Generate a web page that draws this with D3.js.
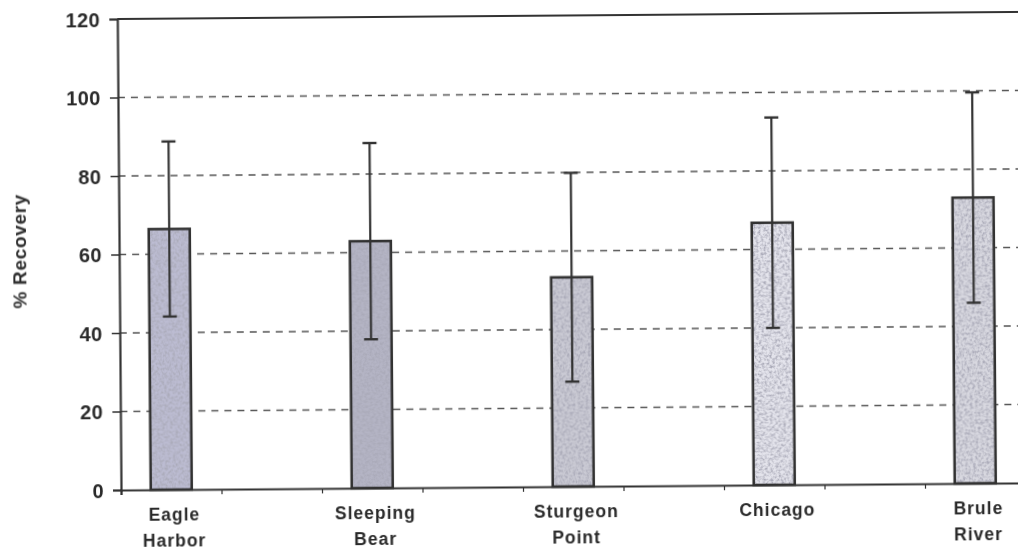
<!DOCTYPE html>
<html>
<head>
<meta charset="utf-8">
<script src="https://cdn.jsdelivr.net/npm/d3@7"></script>
<style>
  html, body { margin: 0; padding: 0; background: #fff; }
  svg { display: block; }
  text { font-family: "Liberation Sans", Arial, sans-serif; font-weight: bold; fill: #2a2a2a; }
</style>
</head>
<body>
<svg id="chart" width="1018" height="556"></svg>
<script>
// Sampling sites (label lines), mean recovery (%) and standard deviation
const sites = [["Eagle", "Harbor"], ["Sleeping", "Bear"], ["Sturgeon", "Point"], ["Chicago"], ["Brule", "River"]];
const recovery = [66.4, 62.9, 53.3, 66.8, 72.8];
const stdDev = [22.3, 25.0, 26.6, 26.8, 26.8];
const yTicks = [0, 20, 40, 60, 80, 100, 120];

// Bar tints (stippled grey-lavender fills)
const barTints = ["#bcbcd2", "#b4b4c4", "#cacad4", "#e4e4ec", "#d8d8e0"];

const svg = d3.select("#chart");
const defs = svg.append("defs");

// Mottled stipple texture for the bar fills
const f = defs.append("filter").attr("id", "grain")
  .attr("x", 0).attr("y", 0).attr("width", 1).attr("height", 1);
f.append("feTurbulence").attr("type", "fractalNoise").attr("baseFrequency", 0.38)
  .attr("numOctaves", 3).attr("seed", 11).attr("result", "noise");
f.append("feColorMatrix").attr("in", "noise").attr("type", "matrix")
  .attr("values", "0 0 0 0 0.40  0 0 0 0 0.40  0 0 0 0 0.48  0 0 0 2.4 -0.9")
  .attr("result", "dots");
f.append("feComposite").attr("in", "dots").attr("in2", "SourceGraphic")
  .attr("operator", "in").attr("result", "clipped");
const m = f.append("feMerge");
m.append("feMergeNode").attr("in", "SourceGraphic");
m.append("feMergeNode").attr("in", "clipped");

// Slight softening of the printed lines
defs.append("filter").attr("id", "soft")
  .append("feGaussianBlur").attr("stdDeviation", 0.45);

// Plot geometry
const x0 = 121, y0 = 490, yTop = 19;
const slots = sites.length * 2;               // two tick intervals per site
const x = d3.scaleLinear().domain([0, slots]).range([x0, x0 + slots * 100.5]);
const y = d3.scaleLinear().domain([0, 120]).range([y0, yTop]);
const barW = 41;

// Whole chart is slightly tilted
const g = svg.append("g")
  .attr("transform", `rotate(-0.45, ${x0}, ${y0})`)
  .attr("filter", "url(#soft)");

const ink = "#333";

// Dashed gridlines
g.append("g").selectAll("line")
  .data(yTicks.filter(t => t > 0 && t < 120))
  .join("line")
  .attr("x1", x0).attr("x2", x(slots))
  .attr("y1", d => y(d)).attr("y2", d => y(d))
  .attr("stroke", "#555").attr("stroke-width", 1.5)
  .attr("stroke-dasharray", "7,6");

// Top frame line
g.append("line")
  .attr("x1", x0).attr("x2", x(slots))
  .attr("y1", y(120)).attr("y2", y(120))
  .attr("stroke", ink).attr("stroke-width", 2);

// Y axis
const yAxis = d3.axisLeft(y).tickValues(yTicks).tickSize(8).tickPadding(9);
const ya = g.append("g").attr("transform", `translate(${x0},0)`).call(yAxis);
ya.select(".domain").attr("stroke", ink).attr("stroke-width", 2.2);
ya.selectAll(".tick line").attr("stroke", ink).attr("stroke-width", 1.5);
ya.selectAll(".tick text")
  .style("font-size", "20px").style("letter-spacing", "0.5px")
  .attr("dy", "0.36em")
  .attr("fill", "#2a2a2a");

// X axis (ticks at every half-site interval)
const xAxis = d3.axisBottom(x).tickValues(d3.range(0, slots + 1)).tickSize(5).tickFormat("");
const xa = g.append("g").attr("transform", `translate(0,${y0})`).call(xAxis);
xa.select(".domain").attr("stroke", ink).attr("stroke-width", 2.2);
xa.selectAll(".tick line").attr("stroke", ink).attr("stroke-width", 1.2);

// Bars
const centers = sites.map((s, i) => x(2 * i + 0.5));
const bars = g.append("g");
bars.selectAll("rect.fill")
  .data(recovery)
  .join("rect")
  .attr("class", "fill")
  .attr("x", (d, i) => centers[i] - barW / 2)
  .attr("y", d => y(d))
  .attr("width", barW)
  .attr("height", d => y(0) - y(d))
  .attr("fill", (d, i) => barTints[i])
  .attr("filter", "url(#grain)");
bars.selectAll("rect.edge")
  .data(recovery)
  .join("rect")
  .attr("class", "edge")
  .attr("x", (d, i) => centers[i] - barW / 2)
  .attr("y", d => y(d))
  .attr("width", barW)
  .attr("height", d => y(0) - y(d))
  .attr("fill", "none")
  .attr("stroke", ink).attr("stroke-width", 2.6);

// Error bars (mean ± SD)
const err = g.append("g").attr("stroke", ink);
recovery.forEach((v, i) => {
  const cx = centers[i], hi = y(v + stdDev[i]), lo = y(v - stdDev[i]);
  err.append("line").attr("x1", cx).attr("x2", cx).attr("y1", hi).attr("y2", lo).attr("stroke-width", 2.2);
  err.append("line").attr("x1", cx - 7).attr("x2", cx + 7).attr("y1", hi).attr("y2", hi).attr("stroke-width", 2.4);
  err.append("line").attr("x1", cx - 7).attr("x2", cx + 7).attr("y1", lo).attr("y2", lo).attr("stroke-width", 2.4);
});

// Site labels
const lab = g.append("g");
sites.forEach((lines, i) => {
  const t = lab.append("text")
    .attr("x", centers[i] + 3)
    .attr("y", y0 + 31)
    .attr("text-anchor", "middle")
    .style("font-size", "17.5px")
    .style("letter-spacing", "1px");
  lines.forEach((ln, k) => {
    t.append("tspan").attr("x", centers[i] + 3).attr("dy", k === 0 ? 0 : 26).text(ln);
  });
});

// Y axis title
g.append("text")
  .attr("transform", `translate(28,${(y(0) + y(120)) / 2 - 4}) rotate(-90)`)
  .attr("text-anchor", "middle")
  .style("font-size", "19px")
  .style("letter-spacing", "0.7px")
  .text("% Recovery");
</script>
</body>
</html>
